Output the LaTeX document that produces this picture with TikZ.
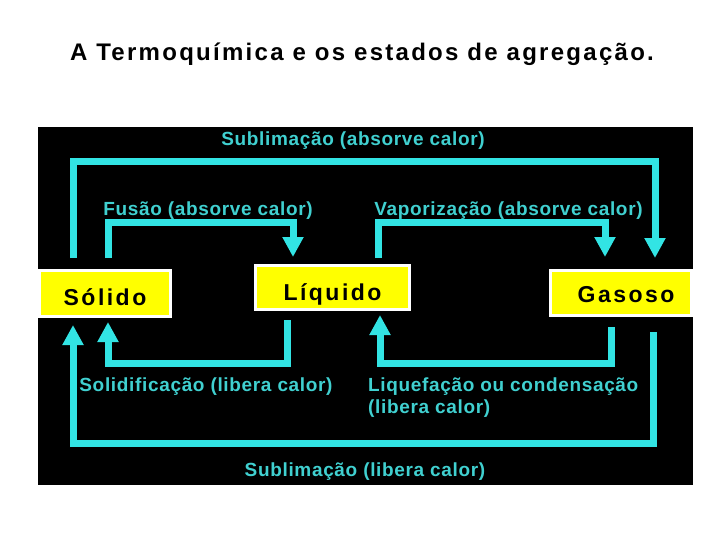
\documentclass[tikz,border=0pt]{standalone}
\usepackage{fontspec}
\setmainfont{Liberation Sans}
\newfontfamily\titf{Liberation Sans}[LetterSpace=9.5]
\newfontfamily\bigf{Liberation Sans}[LetterSpace=10.7]
\newfontfamily\labf{Liberation Sans}[LetterSpace=3.5]
\usetikzlibrary{arrows.meta,calc}
\definecolor{lnc}{RGB}{50,228,228}
\definecolor{txc}{RGB}{64,208,208}
\definecolor{boxy}{RGB}{255,255,0}
\begin{document}
\begin{tikzpicture}[x=1pt,y=-1pt,
  statebox/.style={fill=boxy,draw=white,line width=3pt,inner sep=0pt,text=black,
    font=\bigf\bfseries\fontsize{23}{28}\selectfont,text depth=0pt},
  lab/.style={text=txc,font=\labf\bfseries\fontsize{19}{22}\selectfont,inner sep=0pt},
  arr/.style={draw=lnc,line width=7pt,line join=miter,-{Triangle[width=20pt,length=20pt]}},
]
\useasboundingbox (0,0) rectangle (720,540);
\fill[white] (0,0) rectangle (720,540);
\fill[black] (38,127) rectangle (693,485);
\node[anchor=base,font=\titf\bfseries\fontsize{24}{28}\selectfont,inner sep=0pt] (title) at (362,61) {A Termoquímica e os estados de agregação.};

\node[statebox,minimum width=131pt,minimum height=46pt,text height=23pt] (solido) at (105,293.5) {Sólido};
\node[statebox,minimum width=154pt,minimum height=44pt,text height=25pt] (liquido) at (332.5,287.5) {Líquido};
\node[statebox,minimum width=141pt,minimum height=45pt,text height=19pt] (gasoso) at (621,293) {\hspace*{10pt}Gasoso};

% absorbs heat (top)
\draw[arr] ($(solido.north west)+(35,-11)$) |- ($(gasoso.north west)+(106,-107)$) -- ($(gasoso.north west)+(106,-11)$);
\draw[arr] ($(solido.north west)+(70,-11)$) |- ($(liquido.north west)+(39,-41)$) -- ($(liquido.north west)+(39,-7)$);
\draw[arr] ($(liquido.north west)+(124,-6)$) |- ($(gasoso.north west)+(56,-46)$) -- ($(gasoso.north west)+(56,-12)$);
% releases heat (bottom)
\draw[arr] ($(liquido.south west)+(33,9)$) |- ($(solido.south west)+(70,45)$) -- ($(solido.south west)+(70,4)$);
\draw[arr] ($(gasoso.south west)+(62,10)$) |- ($(liquido.south west)+(126,52)$) -- ($(liquido.south west)+(126,4)$);
\draw[arr] ($(gasoso.south west)+(104,15)$) |- ($(solido.south west)+(35,125)$) -- ($(solido.south west)+(35,7)$);

\node[lab,anchor=base] (l1) at (353,146) {Sublimação (absorve calor)};
\node[lab,anchor=base] (l2) at (208,215) {Fusão (absorve calor)};
\node[lab,anchor=base] (l3) at (508.5,215) {Vaporização (absorve calor)};
\node[lab,anchor=base] (l4) at (206,391.5) {Solidificação (libera calor)};
\node[lab,anchor=base west,align=left] (l5) at (368,413.5) {Liquefação ou condensação\\(libera calor)};
\node[lab,anchor=base] (l6) at (365,476.5) {Sublimação (libera calor)};
\end{tikzpicture}
\end{document}
